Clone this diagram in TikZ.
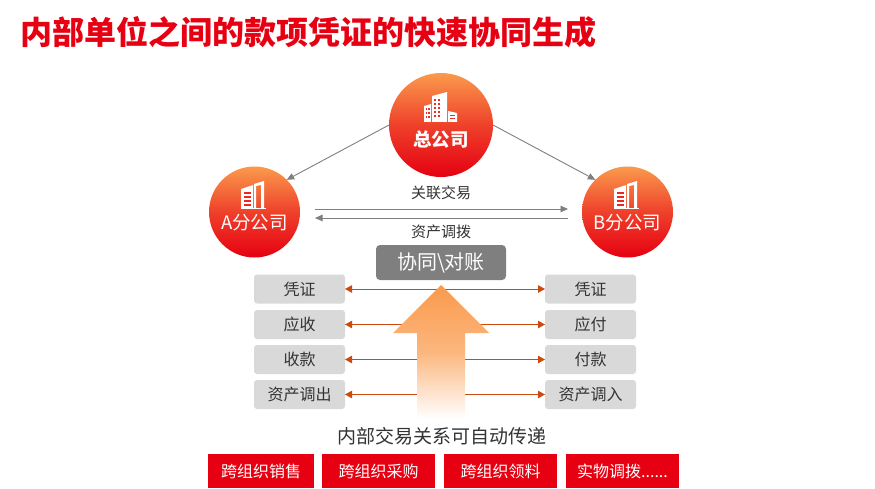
\documentclass[tikz,border=0pt]{standalone}
\usepackage{fontspec}
\setmainfont{Noto Sans CJK SC}
\usetikzlibrary{arrows.meta}
\definecolor{hqred}{HTML}{E60012}
\definecolor{hqorange}{HTML}{FA9A4C}
\definecolor{rust}{HTML}{CB4A0E}
\definecolor{boxgray}{HTML}{D9D9D9}
\definecolor{syncgray}{HTML}{7F7F7F}
\definecolor{inktext}{HTML}{333333}

\begin{document}
\begin{tikzpicture}[
  x=1pt,y=-1pt,
  >=Latex,
  office/.style={circle,minimum size=#1,inner sep=0pt,outer sep=0pt,top color=hqorange,bottom color=hqred,middle color=hqred!58!hqorange},
  link/.style={-{Triangle[length=7.5pt,width=6.5pt]},syncgray,line width=0.9pt},
  sync/.style={{Triangle[length=7pt,width=7.5pt]}-{Triangle[length=7pt,width=7.5pt]},rust,line width=1pt},
  voucher/.style={fill=boxgray,rounded corners=3pt,minimum width=91pt,minimum height=29pt,inner sep=0pt,outer sep=0pt,text=inktext,font=\fontsize{16}{16}\selectfont},
  flow/.style={fill=hqred,minimum height=34pt,inner sep=0pt,text=white,font=\fontsize{16}{16}\selectfont},
  caption/.style={text=inktext,inner sep=0pt,font=\fontsize{15}{15}\selectfont},
  officename/.style={text=white,inner sep=0pt,font=\fontsize{18.5}{19}\selectfont}
]
  \useasboundingbox (0,0) rectangle (875,489);

  \node[anchor=west,inner sep=0pt,text=hqred,font=\fontsize{32}{32}\selectfont\bfseries] (title) at (20.5,32)
    {内部单位之间的款项凭证的快速协同生成};

  \node[office=104pt] (HQ) at (441,125) {};
  \node[office=91pt] (OA) at (254.5,212) {};
  \node[office=91pt] (OB) at (627.5,212) {};

  \draw[link] (HQ.180) -- (OA.45);
  \draw[link] (HQ.0) -- (OB.135);

  % head office building
  \fill[white] (432,96) -- (447,92) -- (447,122) -- (432,122) -- cycle;
  \fill[white] (424,106) -- (431,104) -- (431,122) -- (424,122) -- cycle;
  \fill[white] (448,111) -- (457,113) -- (457,122) -- (448,122) -- cycle;
  \foreach \wy in {99,103,107,111,115} {
    \fill[hqred!70!hqorange] (433.5,\wy) rectangle ++(2.5,2);
    \fill[hqred!70!hqorange] (437.5,\wy) rectangle ++(2.5,2);
  }
  \foreach \wy in {108,112,116} {
    \fill[hqred!70!hqorange] (425.5,\wy) rectangle ++(1.8,2);
    \fill[hqred!70!hqorange] (428.3,\wy) rectangle ++(1.8,2);
  }
  \foreach \wy in {115,118} {
    \fill[hqred!70!hqorange] (450,\wy) rectangle ++(5,1.5);
  }
  \node[officename,font=\fontsize{18.5}{19}\selectfont\bfseries] (HQname) at (441,139) {总公司};

  % branch buildings
  \foreach \bx in {241,614} {
    \fill[white] (\bx,189) -- (\bx+12,185) -- (\bx+12,209) -- (\bx,209) -- cycle;
    \foreach \wy in {192,196,200,204} {
      \fill[hqred!75!hqorange] (\bx+2.5,\wy) rectangle ++(7,2);
    }
    \fill[white] (\bx+13,184) -- (\bx+23,181) -- (\bx+23,208) -- (\bx+20,208) -- (\bx+20,185) -- (\bx+15,186) -- (\bx+15,208) -- (\bx+13,208) -- cycle;
    \draw[white,line width=1.5pt] (\bx,208.5) -- (\bx+25,208.5);
  }
  \node[officename] (OAname) at (254.5,223) {A分公司};
  \node[officename] (OBname) at (627.5,223) {B分公司};

  \coordinate (dealL) at (315,209);
  \coordinate (dealR) at (568,209);
  \coordinate (allotL) at (315,218);
  \coordinate (allotR) at (568,218);
  \draw[link] (dealL) -- (dealR);
  \draw[link] (allotR) -- (allotL);
  \node[caption] (deal) at (441,192.5) {关联交易};
  \node[caption] (allot) at (441,231.5) {资产调拨};

  \node[fill=syncgray,rounded corners=4pt,minimum width=130pt,minimum height=35pt,inner sep=0pt,text=white,
    font=\fontsize{20}{20}\selectfont] (check) at (441,262.5) {协同\textbackslash 对账};

  \foreach \rowid/\rowy/\ltext/\rtext in {a/289/凭证/凭证,b/324.5/应收/应付,c/359.5/收款/付款,d/394.5/资产调出/资产调入} {
    \node[voucher] (L\rowid) at (299.5,\rowy) {\ltext};
    \node[voucher] (R\rowid) at (590.5,\rowy) {\rtext};
    \draw[sync] (L\rowid) -- (R\rowid);
  }

  % big arrow on top of the rows
  \shade[top color=hqorange,bottom color=white,middle color=hqorange!72!white,shading angle=0]
    (441,285) -- (489,333) -- (465,333) -- (465,419) -- (417,419) -- (417,333) -- (393,333) -- cycle;

  \node[text=inktext,inner sep=0pt,font=\fontsize{19}{19}\selectfont] (chain) at (442,436)
    {内部交易关系可自动传递};

  \node[flow,minimum width=106pt] (sales) at (261,471) {跨组织销售};
  \node[flow,minimum width=113pt] (purchase) at (378.5,471) {跨组织采购};
  \node[flow,minimum width=113pt] (material) at (500.5,471) {跨组织领料};
  \node[flow,minimum width=113pt] (transfer) at (622.5,471) {实物调拨......};
\end{tikzpicture}
\end{document}
